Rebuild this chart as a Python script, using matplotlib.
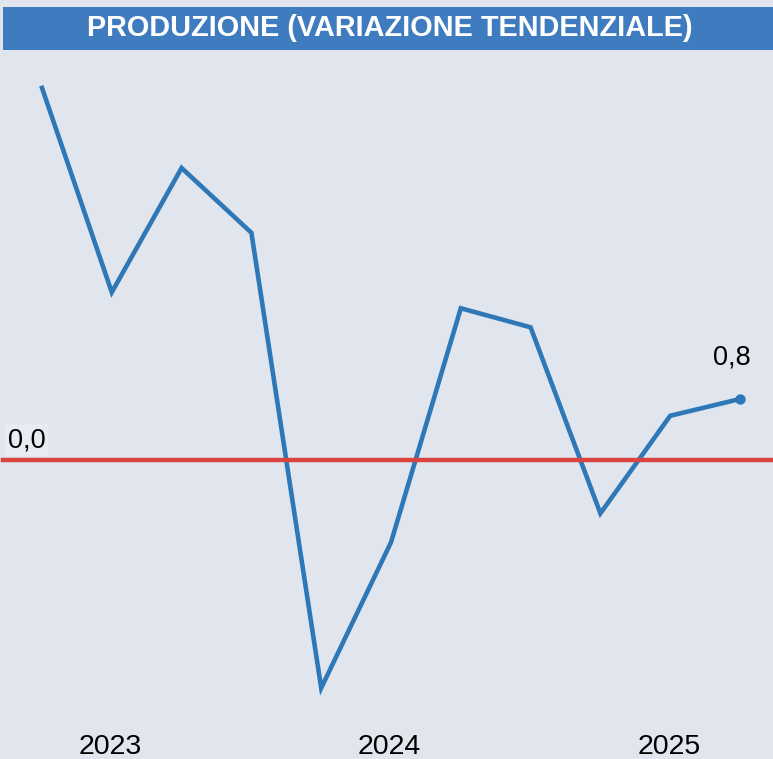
import matplotlib
matplotlib.use("Agg")
import matplotlib.pyplot as plt
import matplotlib.transforms as mtransforms
from matplotlib.patches import Rectangle

# quarterly year-on-year change in production
quarters = ["2022-T4", "2023-T1", "2023-T2", "2023-T3", "2023-T4",
            "2024-T1", "2024-T2", "2024-T3", "2024-T4", "2025-T1", "2025-T2"]
values = [4.88, 2.20, 3.83, 2.98, -2.99, -1.08, 1.99, 1.74, -0.70, 0.58, 0.8]
year_labels = ["2023", "2024", "2025"]
year_pos = [1, 5, 9]

bg = "#E1E6EE"
blue_line = "#2E78B7"
red_line = "#D9443F"
title_blue = "#3F7BBF"
fam = ["Liberation Sans", "DejaVu Sans"]

fig = plt.figure(figsize=(7.73, 7.59), dpi=100)
fig.patch.set_facecolor(bg)
ax = fig.add_axes([0, 0, 1, 1])
ax.set_facecolor(bg)
for s in ax.spines.values():
    s.set_visible(False)
ax.set_xticks([])
ax.set_yticks([])

x = list(range(len(values)))
ax.plot(x, values, color=blue_line, lw=3.3, solid_joinstyle="miter")
ax.plot(x[-1], values[-1], "o", color=blue_line, ms=6.5)
ax.axhline(0, color=red_line, lw=3.2, xmin=3 / 773, xmax=1)

# pixel mapping to the reference layout
ax.set_xlim(-42 / 69.8, (773 - 42) / 69.8)
ax.set_ylim(-(759 - 460) / 76.25, 460 / 76.25)

ax.text(8, 0.09, "0,0", fontsize=19.5, family=fam,
        transform=mtransforms.blended_transform_factory(
            mtransforms.IdentityTransform(), ax.transData),
        va="bottom", ha="left",
        bbox=dict(boxstyle="square,pad=0.1", fc="#E8ECF2", ec="none"))
ax.text(x[-1] - 0.12, values[-1] + 0.38, "0,8", fontsize=19.5,
        family=fam, ha="center", va="bottom")

trans = mtransforms.blended_transform_factory(ax.transData, fig.transFigure)
for lbl, p in zip(year_labels, year_pos):
    ax.text(p - 0.02, -1 / 759, lbl, transform=trans, ha="center", va="bottom",
            fontsize=20.5, family=fam)

# title bar
fig.patches.append(Rectangle((3 / 773, 1 - 50 / 759), 770 / 773, 43 / 759,
                             transform=fig.transFigure, facecolor=title_blue,
                             edgecolor="none", zorder=5))
fig.text(390 / 773, 1 - 28.5 / 759, "PRODUZIONE (VARIAZIONE TENDENZIALE)",
         ha="center", va="center", color="white", fontsize=20.8, fontweight="bold",
         family=fam, zorder=6)

fig.savefig("out.png", dpi=100, facecolor=bg)
